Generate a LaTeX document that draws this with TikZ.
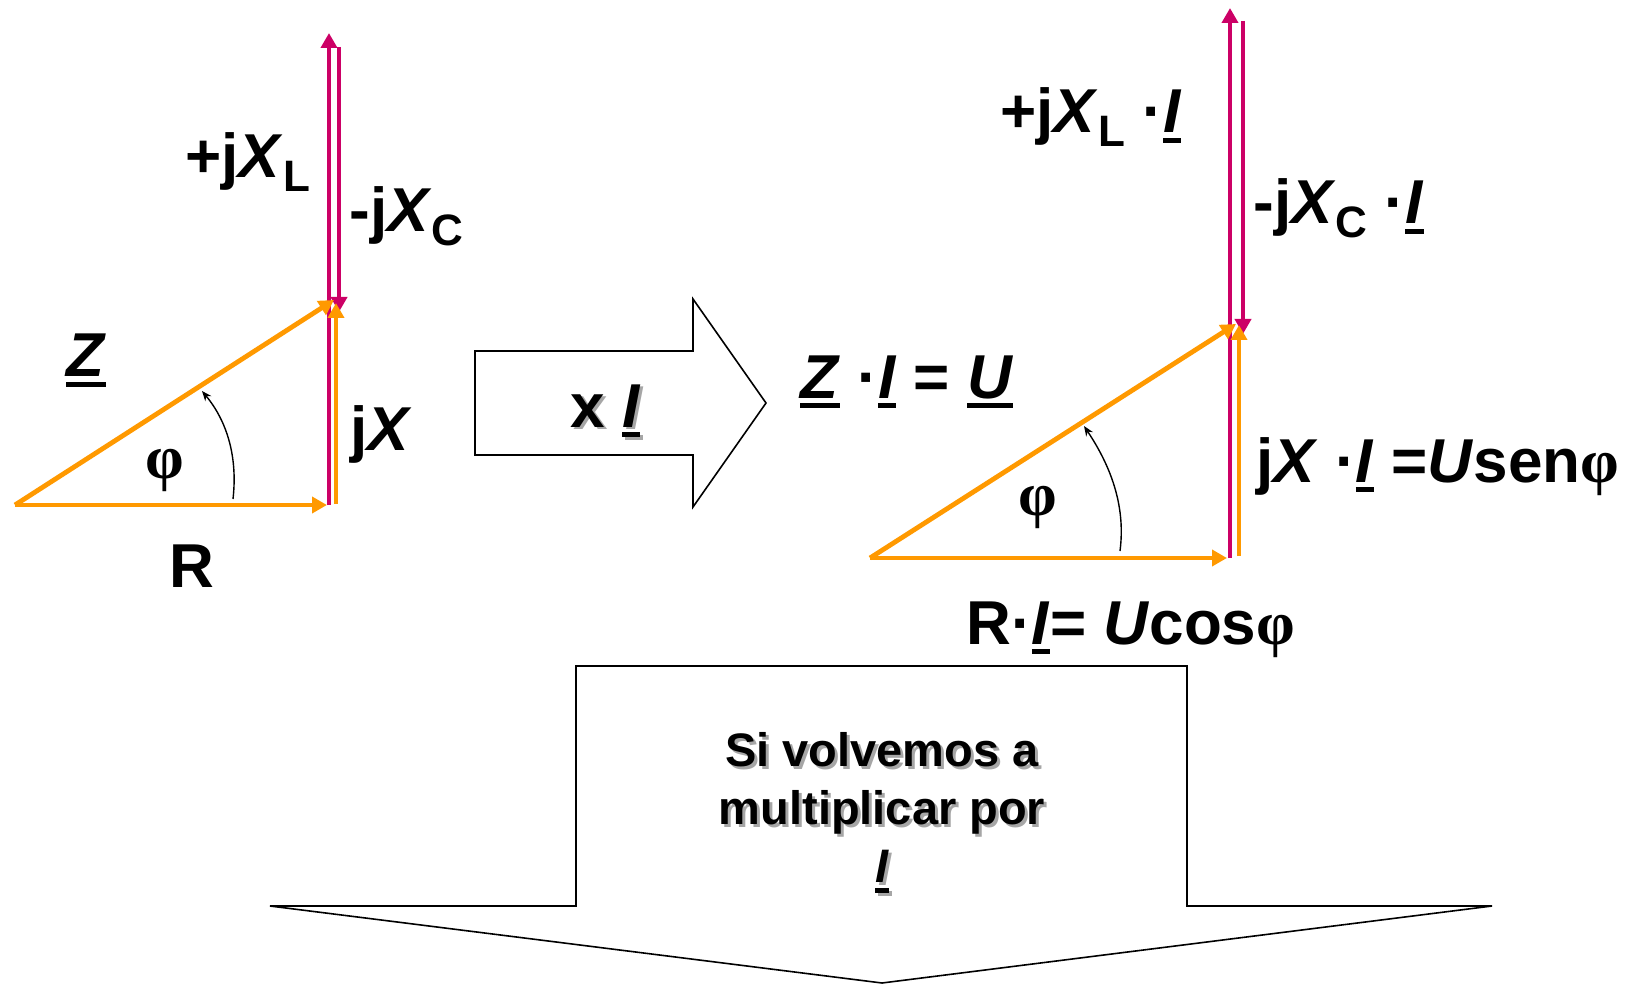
\documentclass[tikz,border=0pt]{standalone}
\usepackage{fontspec}
\setmainfont{Liberation Sans}
\newfontfamily\symfont{Liberation Serif}
\usetikzlibrary{arrows.meta}
\definecolor{vorange}{RGB}{255,153,0}
\definecolor{vmagenta}{RGB}{204,0,102}
\tikzset{
  ovec/.style={draw=vorange,line width=2.4pt,-{Triangle[length=7.5pt,width=8pt]}},
  mvec/.style={draw=vmagenta,line width=2.4pt,-{Triangle[length=7.5pt,width=8pt]}},
  angarrow/.style={draw=black,line width=0.7pt,-{Stealth[length=5pt,width=4pt]}},
  blockarrow/.style={draw=black,line width=0.8pt,fill=white},
  lbl/.style={inner sep=0pt,anchor=base west,font=\fontsize{31}{36}\selectfont\bfseries},
  philbl/.style={inner sep=0pt,font=\fontsize{31}{36}\selectfont},
  notetxt/.style={inner sep=0pt,align=center,font=\fontsize{23.5}{29}\selectfont\bfseries}
}
\newcommand{\ubar}[1]{\setbox0\hbox{#1}\rlap{\rule[-5pt]{\wd0}{2.4pt}}\box0}
\newcommand{\vI}{\ubar{\textit{I}}}
\newcommand{\vZ}{\ubar{\textit{Z}}}
\newcommand{\vU}{\ubar{\textit{U}}}
\newcommand{\phiS}{{\symfont\bfseries φ}}
\newcommand{\lsub}[1]{\raisebox{-7pt}{\fontsize{22}{22}\selectfont #1}}
\newcommand{\shtxt}[1]{\makebox[0pt][l]{\hspace{1.5pt}\raisebox{-1.5pt}{\color{black!35}#1}}#1}

\begin{document}
\begin{tikzpicture}[x=0.5pt,y=-0.5pt]
  \useasboundingbox (0,0) rectangle (1628,984);
  % block arrows
  \draw[blockarrow] (475,351) -- (693,351) -- (693,299) -- (766,403)
    -- (693,507) -- (693,455) -- (475,455) -- cycle;
  \node[lbl] (times) at (570,427) {\shtxt{x \vI}};
  \draw[blockarrow] (576,666) -- (1187,666) -- (1187,906) -- (1492,906)
    -- (882,983) -- (270,906) -- (576,906) -- cycle;
  \node[notetxt] (again) at (882,814)
    {\shtxt{Si volvemos a}\\\shtxt{multiplicar por}\\\shtxt{\vI}};
  % impedance triangle
  \coordinate (o1) at (15,505);
  \coordinate (r1) at (327,505);
  \coordinate (z1) at (334,300);
  \coordinate (xl1a) at (329,505);
  \coordinate (xl1b) at (329,33);
  \coordinate (xc1a) at (339,47);
  \coordinate (xc1b) at (339,312);
  \coordinate (x1a) at (336,504);
  \coordinate (x1b) at (336,303);
  \draw[mvec] (xl1a) -- (xl1b);
  \draw[mvec] (xc1a) -- (xc1b);
  \draw[ovec] (o1) -- (r1);
  \draw[ovec] (x1a) -- (x1b);
  \draw[ovec] (o1) -- (z1);
  \coordinate (ang1a) at (233,499);
  \coordinate (ang1b) at (202,391);
  \draw[angarrow] (ang1a) .. controls (238,455) and (226,420) .. (ang1b);
  \node[philbl] (phi1) at (165,470) {\phiS};
  \node[lbl] (lz) at (66,377) {\vZ};
  \node[lbl] (lr) at (169,587) {R};
  \node[lbl] (ljx) at (350,450) {j\textit{X}};
  \node[lbl] (lxl) at (185,178) {+j\textit{X}\lsub{L}};
  \node[lbl] (lxc) at (349,232) {-j\textit{X}\lsub{C}};
  % voltage triangle
  \coordinate (o2) at (870,558);
  \coordinate (r2) at (1227,558);
  \coordinate (z2) at (1236,324);
  \coordinate (xl2a) at (1230,558);
  \coordinate (xl2b) at (1230,8);
  \coordinate (xc2a) at (1243,21);
  \coordinate (xc2b) at (1243,334);
  \coordinate (x2a) at (1239,556);
  \coordinate (x2b) at (1239,325);
  \draw[mvec] (xl2a) -- (xl2b);
  \draw[mvec] (xc2a) -- (xc2b);
  \draw[ovec] (o2) -- (r2);
  \draw[ovec] (x2a) -- (x2b);
  \draw[ovec] (o2) -- (z2);
  \coordinate (ang2a) at (1120,551);
  \coordinate (ang2b) at (1084,426);
  \draw[angarrow] (ang2a) .. controls (1126,505) and (1110,465) .. (ang2b);
  \node[philbl] (phi2) at (1038,507) {\phiS};
  \node[lbl] (rzu) at (800,398) {\vZ\ ·\vI{} = \vU};
  \node[lbl] (rr) at (966,644) {R·\vI= \textit{U}cos\phiS};
  \node[lbl] (rjx) at (1256,482) {j\textit{X} ·\vI{} =\textit{U}sen\phiS};
  \node[lbl] (rxl) at (1000,133) {+j\textit{X}\lsub{L} ·\vI};
  \node[lbl] (rxc) at (1253,224) {-j\textit{X}\lsub{C} ·\vI};
\end{tikzpicture}
\end{document}
